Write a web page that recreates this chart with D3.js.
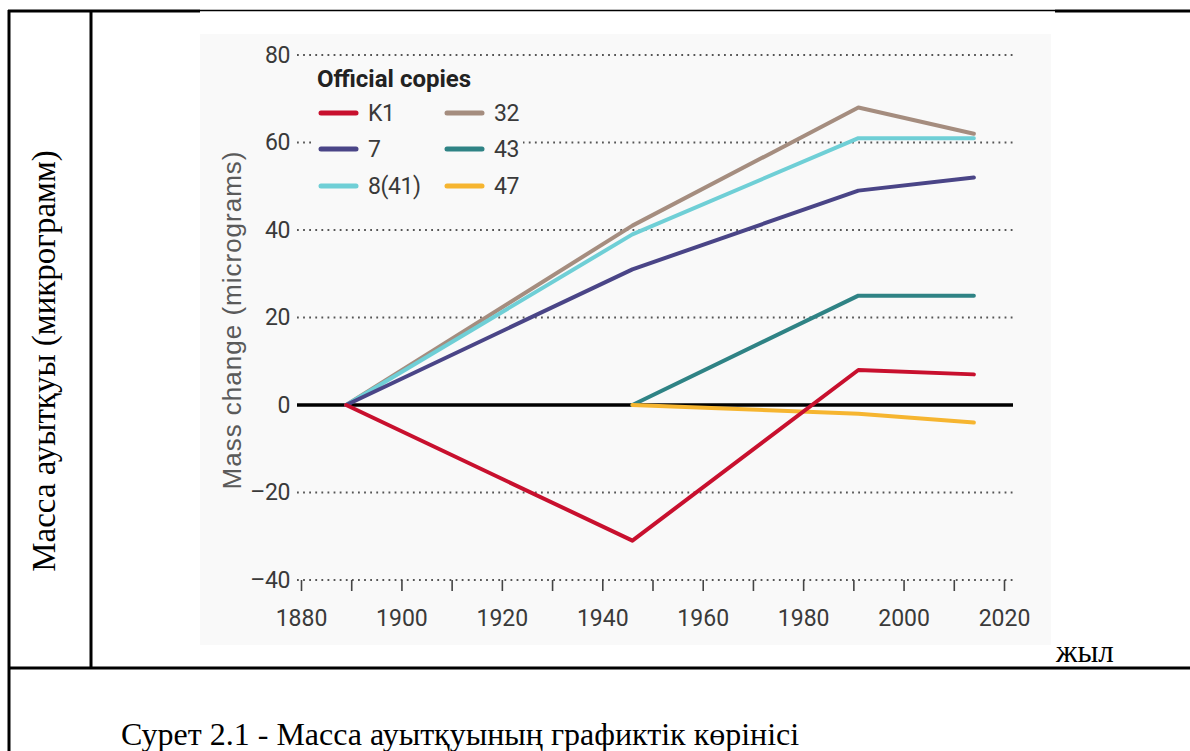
<!DOCTYPE html>
<html lang="en">
<head>
    <meta charset="UTF-8">
    <title>Mass change of official copies</title>
    <script src="https://cdnjs.cloudflare.com/ajax/libs/d3/7.9.0/d3.min.js"></script>
    <style>
        body { margin: 0; background: #fff; }
        svg { display: block; }
    </style>
</head>
<body>
    <svg width="1190" height="751"></svg>

    <script>
        // Data: mass change (micrograms) by year of verification
        let copies = ["K1", "7", "8(41)", "32", "43", "47"];
        let yearsK1 = [1889, 1946, 1991, 2014];
        let valuesK1 = [0, -31, 8, 7];
        let years7 = [1889, 1946, 1991, 2014];
        let values7 = [0, 31, 49, 52];
        let years841 = [1889, 1946, 1991, 2014];
        let values841 = [0, 39, 61, 61];
        let years32 = [1889, 1946, 1991, 2014];
        let values32 = [0, 41, 68, 62];
        let years43 = [1946, 1991, 2014];
        let values43 = [0, 25, 25];
        let years47 = [1946, 1991, 2014];
        let values47 = [0, -2, -4];

        let yTicks = [-40, -20, 0, 20, 40, 60, 80];
        let xTicks = [1880, 1890, 1900, 1910, 1920, 1930, 1940, 1950, 1960, 1970, 1980, 1990, 2000, 2010, 2020];
        let xLabels = [1880, 1900, 1920, 1940, 1960, 1980, 2000, 2020];

        let colors = {
            "K1": "#c8102e",
            "7": "#4a4587",
            "8(41)": "#6fcfd6",
            "32": "#a58d7f",
            "43": "#2f8385",
            "47": "#f6b530"
        };

        let series = [
            { name: "32", years: years32, values: values32 },
            { name: "8(41)", years: years841, values: values841 },
            { name: "7", years: years7, values: values7 },
            { name: "43", years: years43, values: values43 },
            { name: "47", years: years47, values: values47 },
            { name: "K1", years: yearsK1, values: valuesK1 }
        ];

        let svg = d3.select("svg");
        let sans = "Roboto, 'Noto Sans', sans-serif";
        let serif = "'Liberation Serif', 'Times New Roman', serif";

        // Table frame around the figure
        let frame = svg.append("g").attr("stroke", "#000").attr("fill", "none");
        frame.append("line").attr("x1", 8).attr("x2", 200).attr("y1", 11).attr("y2", 11).attr("stroke-width", 3);
        frame.append("line").attr("x1", 200).attr("x2", 1055).attr("y1", 10.5).attr("y2", 10.5).attr("stroke-width", 1.5);
        frame.append("line").attr("x1", 1055).attr("x2", 1190).attr("y1", 11).attr("y2", 11).attr("stroke-width", 3);
        frame.append("line").attr("x1", 9).attr("x2", 9).attr("y1", 10).attr("y2", 751).attr("stroke-width", 3);
        frame.append("line").attr("x1", 91).attr("x2", 91).attr("y1", 10).attr("y2", 668).attr("stroke-width", 3);
        frame.append("line").attr("x1", 8).attr("x2", 1190).attr("y1", 668).attr("y2", 668).attr("stroke-width", 3);

        // Chart panel
        svg.append("rect")
            .attr("x", 200).attr("y", 34)
            .attr("width", 851).attr("height", 611)
            .attr("fill", "#f9f9f9");

        let x = d3.scaleLinear().domain([1880, 2020]).range([301, 1004]);
        let y = d3.scaleLinear().domain([-40, 80]).range([580, 55]);

        // Dotted grid lines
        let gridLeft = 297, gridRight = 1013;
        yTicks.filter(v => v !== 0).forEach(v => {
            svg.append("line")
                .attr("x1", gridLeft).attr("x2", gridRight)
                .attr("y1", y(v)).attr("y2", y(v))
                .attr("stroke", "#555")
                .attr("stroke-width", 1.8)
                .attr("stroke-dasharray", "1.8 4.3");
        });

        // Y axis labels
        let yAxis = svg.append("g")
            .attr("transform", "translate(292,0)")
            .call(d3.axisLeft(y).tickValues(yTicks).tickSize(0).tickPadding(2)
                .tickFormat(d => d < 0 ? "\u2013" + Math.abs(d) : d));
        yAxis.select(".domain").remove();
        yAxis.selectAll("text")
            .attr("font-family", sans)
            .attr("font-size", "23px")
            .attr("letter-spacing", "-0.4px")
            .attr("fill", "#3a3a3a");

        // X axis: ticks every 10 years, labels every 20
        let xAxis = svg.append("g")
            .attr("transform", "translate(0," + y(-40) + ")")
            .call(d3.axisBottom(x).tickValues(xTicks).tickSize(11).tickPadding(19)
                .tickFormat(d => xLabels.includes(d) ? d : ""));
        xAxis.select(".domain").remove();
        xAxis.selectAll(".tick line").attr("stroke", "#444").attr("stroke-width", 1.6);
        xAxis.selectAll("text")
            .attr("font-family", sans)
            .attr("font-size", "23px")
            .attr("letter-spacing", "0px")
            .attr("fill", "#3a3a3a");

        // Y axis title
        svg.append("text")
            .attr("transform", "translate(241,320) rotate(-90)")
            .attr("text-anchor", "middle")
            .attr("font-family", "'Liberation Sans', Arial, sans-serif")
            .attr("font-size", "26px")
            .attr("letter-spacing", "1px")
            .attr("fill", "#5a5a5a")
            .text("Mass change (micrograms)");

        // Legend box covers the 60 grid line
        svg.append("rect")
            .attr("x", 311).attr("y", 62)
            .attr("width", 212).attr("height", 142)
            .attr("fill", "#f9f9f9");

        svg.append("text")
            .attr("x", 317).attr("y", 87)
            .attr("font-family", sans)
            .attr("font-size", "24px")
            .attr("font-weight", "bold")
            .attr("fill", "#222")
            .text("Official copies");

        let legendOrder = [["K1", "7", "8(41)"], ["32", "43", "47"]];
        let legendX = [321, 447];
        let legendY = [113, 149, 186];
        legendOrder.forEach((col, ci) => {
            col.forEach((name, ri) => {
                svg.append("line")
                    .attr("x1", legendX[ci]).attr("x2", legendX[ci] + 35)
                    .attr("y1", legendY[ri]).attr("y2", legendY[ri])
                    .attr("stroke", colors[name])
                    .attr("stroke-width", 5)
                    .attr("stroke-linecap", "round");
                svg.append("text")
                    .attr("x", legendX[ci] + 47)
                    .attr("y", legendY[ri])
                    .attr("dy", "0.36em")
                    .attr("font-family", sans)
                    .attr("font-size", "23px")
                    .attr("letter-spacing", "-0.4px")
                    .attr("fill", "#3a3a3a")
                    .text(name);
            });
        });

        // Zero line
        svg.append("line")
            .attr("x1", gridLeft).attr("x2", gridRight)
            .attr("y1", y(0)).attr("y2", y(0))
            .attr("stroke", "#000")
            .attr("stroke-width", 3.5);

        // Data lines
        let line = d3.line()
            .x(d => x(d[0]))
            .y(d => y(d[1]));

        series.forEach(s => {
            svg.append("path")
                .datum(d3.zip(s.years, s.values))
                .attr("d", line)
                .attr("fill", "none")
                .attr("stroke", colors[s.name])
                .attr("stroke-width", 4)
                .attr("stroke-linejoin", "round")
                .attr("stroke-linecap", "round");
        });

        // Kazakh labels of the document table
        svg.append("text")
            .attr("transform", "translate(55,361) rotate(-90)")
            .attr("text-anchor", "middle")
            .attr("font-family", serif)
            .attr("font-size", "33px")
            .attr("fill", "#000")
            .text("Масса ауытқуы (микрограмм)");

        svg.append("text")
            .attr("x", 1056).attr("y", 662)
            .attr("font-family", serif)
            .attr("font-size", "31px")
            .attr("fill", "#000")
            .text("жыл");

        svg.append("text")
            .attr("x", 121).attr("y", 745)
            .attr("font-family", serif)
            .attr("font-size", "32px")
            .attr("fill", "#000")
            .text("Сурет 2.1 - Масса ауытқуының графиктік көрінісі");
    </script>
</body>
</html>
